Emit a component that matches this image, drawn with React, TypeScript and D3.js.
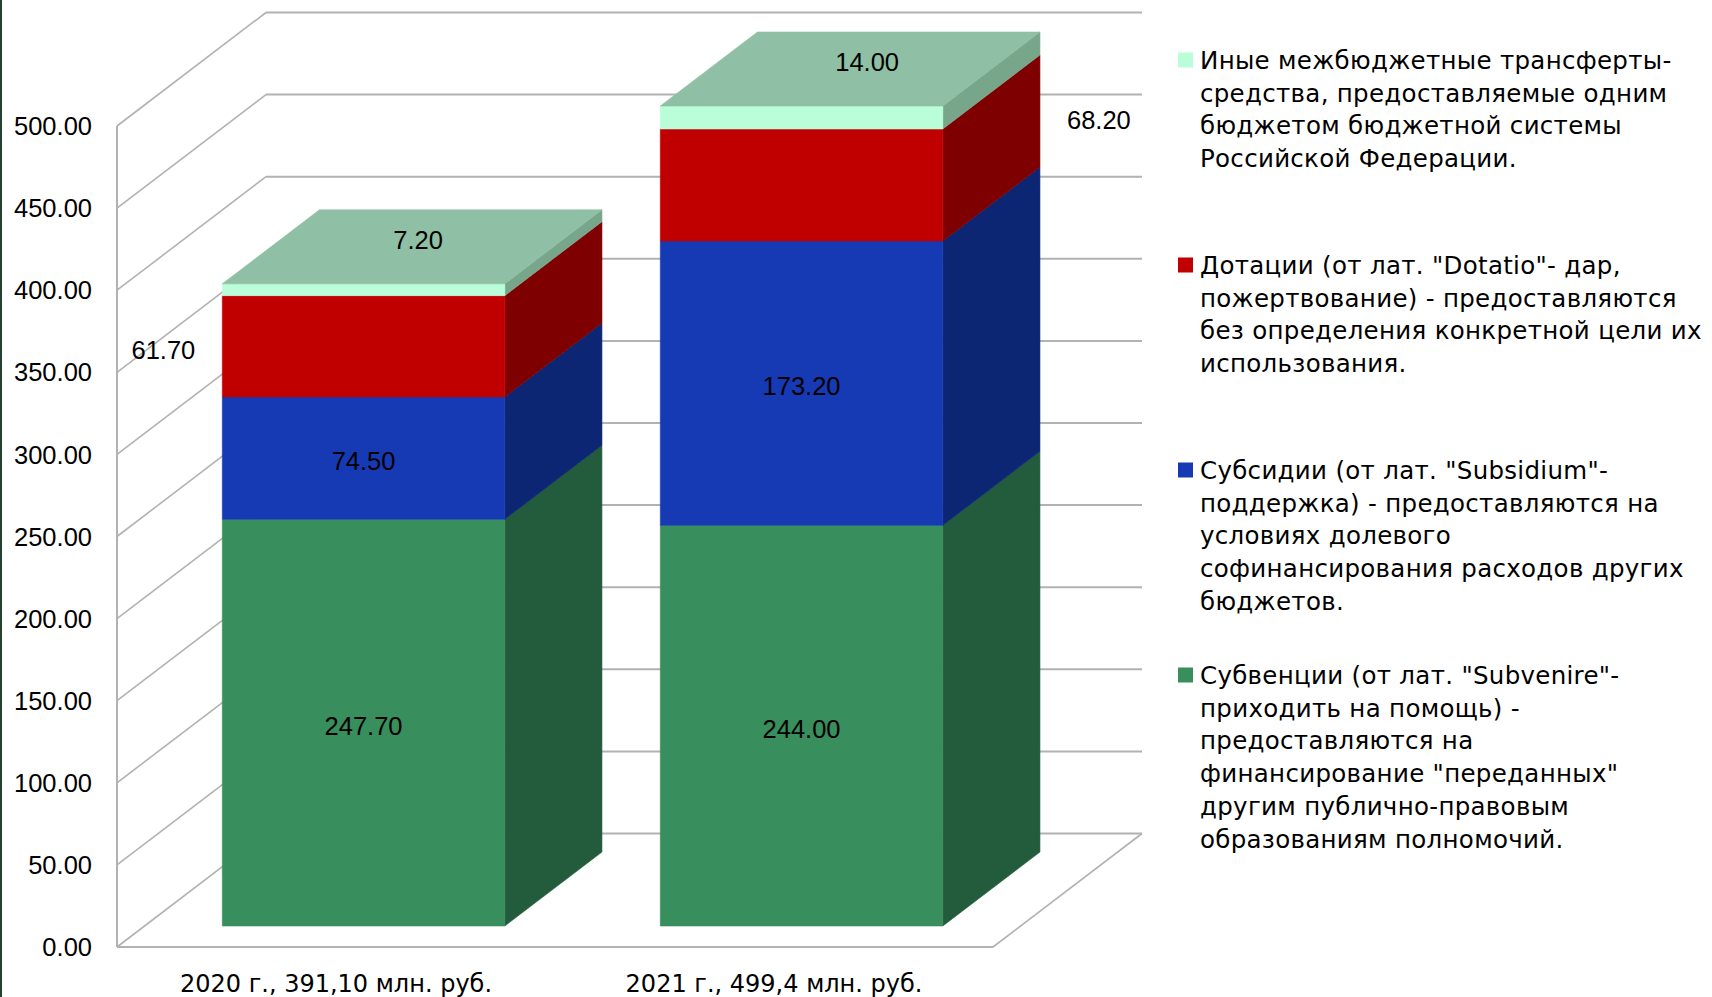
import React from "react";
import * as d3 from "d3";

// ---------- data ----------
const categories = ["2020 г., 391,10 млн. руб.", "2021 г., 499,4 млн. руб."];
const subventions = [247.7, 244.0];
const subsidies = [74.5, 173.2];
const dotations = [61.7, 68.2];
const otherTransfers = [7.2, 14.0];
const yTicks = [0, 50, 100, 150, 200, 250, 300, 350, 400, 450, 500];

const legendOther = [
  "Иные межбюджетные трансферты-",
  "средства, предоставляемые одним",
  "бюджетом бюджетной системы",
  "Российской Федерации.",
];
const legendDot = [
  'Дотации (от лат. "Dotatio"- дар,',
  "пожертвование) - предоставляются",
  "без определения конкретной цели их",
  "использования.",
];
const legendSubs = [
  'Субсидии (от лат. "Subsidium"-',
  "поддержка) - предоставляются на",
  "условиях долевого",
  "софинансирования расходов других",
  "бюджетов.",
];
const legendSubv = [
  'Субвенции (от лат. "Subvenire"-',
  "приходить на помощь) -",
  "предоставляются на",
  'финансирование "переданных"',
  "другим публично-правовым",
  "образованиям полномочий.",
];

// series bottom -> top
const series = [
  { key: "subv", values: subventions, front: "#388e5d", side: "#235c3c", top: "#8fc0a5", legend: legendSubv, place: ["center", "center"] },
  { key: "subs", values: subsidies, front: "#163ab4", side: "#0c2674", top: "#8fc0a5", legend: legendSubs, place: ["center", "center"] },
  { key: "dot", values: dotations, front: "#c00000", side: "#7f0000", top: "#8fc0a5", legend: legendDot, place: ["left", "right"] },
  { key: "other", values: otherTransfers, front: "#bafdd9", side: "#78a68b", top: "#8fc0a5", legend: legendOther, place: ["top", "top"] },
];

// ---------- layout ----------
const W = 1712;
const H = 997;
const DEPTH_DX = 149;
const DEPTH_DY = 113.5;
const BAR_D0 = 0.185;
const BAR_D1 = 0.837;
const NUM_FONT = "'Liberation Sans', Arial, sans-serif";
const TXT_FONT = "'DejaVu Sans', sans-serif";

const y = d3.scaleLinear().domain([0, 500]).range([947, 126]);
const x = d3
  .scaleBand<string>()
  .domain(categories)
  .range([117, 993])
  .paddingInner(0.355)
  .paddingOuter(0.1775);

const proj = (X: number, Y: number, d: number): [number, number] => [X + d * DEPTH_DX, Y - d * DEPTH_DY];
const poly = (pts: [number, number][]) => pts.map((p) => p.join(",")).join(" ");

export default function App() {
  const rows = categories.map((c, i) => {
    const r: any = { cat: c };
    series.forEach((s) => (r[s.key] = s.values[i]));
    return r;
  });
  const stacked = d3.stack().keys(series.map((s) => s.key))(rows);
  const bw = x.bandwidth();
  const [x0r, x1r] = x.range();
  const gridColor = "#b2b2b2";
  const fmt = d3.format(".2f");

  const bars: any[] = [];
  const labels: any[] = [];
  categories.forEach((cat, i) => {
    const bx0 = x(cat)!;
    const bx1 = bx0 + bw;
    series.forEach((s, si) => {
      const [v0, v1] = stacked[si][i] as any;
      const front = poly([proj(bx0, y(v1), BAR_D0), proj(bx1, y(v1), BAR_D0), proj(bx1, y(v0), BAR_D0), proj(bx0, y(v0), BAR_D0)]);
      const side = poly([proj(bx1, y(v1), BAR_D0), proj(bx1, y(v1), BAR_D1), proj(bx1, y(v0), BAR_D1), proj(bx1, y(v0), BAR_D0)]);
      bars.push(<polygon key={`s${i}${si}`} points={side} fill={s.side} stroke={s.side} strokeWidth={0.6} />);
      bars.push(<polygon key={`f${i}${si}`} points={front} fill={s.front} stroke={s.front} strokeWidth={0.6} />);
      if (si === series.length - 1) {
        const top = poly([proj(bx0, y(v1), BAR_D0), proj(bx1, y(v1), BAR_D0), proj(bx1, y(v1), BAR_D1), proj(bx0, y(v1), BAR_D1)]);
        bars.push(<polygon key={`t${i}`} points={top} fill={s.top} stroke={s.top} strokeWidth={0.6} />);
      }
      const place = s.place[i];
      let lx = 0, ly = 0, anchor = "middle";
      if (place === "center") {
        [lx, ly] = proj(bx0 + bw / 2, (y(v0) + y(v1)) / 2, BAR_D0);
        ly += 3;
      } else if (place === "top") {
        [lx, ly] = proj(bx0 + bw / 2, y(v1), (BAR_D0 + BAR_D1) / 2);
        lx += i === 0 ? 6 : 17;
        ly -= 7;
      } else if (place === "left") {
        [lx, ly] = proj(bx0, (y(v0) + y(v1)) / 2, BAR_D0);
        lx -= 27;
        ly += 4;
        anchor = "end";
      } else {
        [lx, ly] = proj(bx1, (y(v0) + y(v1)) / 2, BAR_D1);
        lx += 27;
        ly += 9;
        anchor = "start";
      }
      labels.push(
        <text key={`l${i}${si}`} x={lx} y={ly} dy="0.36em" textAnchor={anchor} fontFamily={NUM_FONT} fontSize={25.5} fill="#000">
          {fmt(s.values[i])}
        </text>
      );
    });
  });

  const legendSeries = [...series].reverse();
  const legendX = 1178;
  const legendTop = 60;
  const legendStep = 205;
  const lineH = 32.75;

  return (
    <svg width={W} height={H} style={{ position: "absolute", left: 0, top: 0, background: "#fff" }}>
      <rect x={0} y={0} width={W} height={H} fill="#fff" />
      <rect x={0} y={0} width={2} height={H} fill="#24402f" />
      {/* back wall gridlines */}
      {yTicks.map((t) => {
        const a = proj(x0r, y(t), 1);
        const b = proj(x1r, y(t), 1);
        return <line key={`g${t}`} x1={a[0]} y1={a[1]} x2={b[0]} y2={b[1]} stroke={gridColor} strokeWidth={2} />;
      })}
      {/* left wall diagonals */}
      {yTicks.map((t) => {
        const a = proj(x0r, y(t), 0);
        const b = proj(x0r, y(t), 1);
        return <line key={`d${t}`} x1={a[0]} y1={a[1]} x2={b[0]} y2={b[1]} stroke={gridColor} strokeWidth={1.6} />;
      })}
      {/* axis & floor */}
      <line x1={x0r} y1={y(0)} x2={x0r} y2={y(500)} stroke={gridColor} strokeWidth={2} />
      <line x1={x0r} y1={y(0)} x2={x1r} y2={y(0)} stroke={gridColor} strokeWidth={2} />
      {(() => {
        const a = proj(x1r, y(0), 0);
        const b = proj(x1r, y(0), 1);
        return <line x1={a[0]} y1={a[1]} x2={b[0]} y2={b[1]} stroke={gridColor} strokeWidth={1.6} />;
      })()}
      {/* y tick labels */}
      {yTicks.map((t) => (
        <text key={`yt${t}`} x={92} y={y(t)} dy="0.36em" textAnchor="end" fontFamily={NUM_FONT} fontSize={25.5} fill="#000">
          {fmt(t)}
        </text>
      ))}
      {bars}
      {labels}
      {/* category labels */}
      {categories.map((c) => (
        <text key={c} x={x(c)! + bw / 2} y={983} dy="0.36em" textAnchor="middle" fontFamily={TXT_FONT} fontSize={24} fill="#000">
          {c}
        </text>
      ))}
      {/* legend */}
      {legendSeries.map((s, i) => {
        const top = legendTop + i * legendStep;
        return (
          <g key={`lg${s.key}`}>
            <rect x={legendX} y={top - 7.5} width={15} height={15} fill={s.front} />
            {s.legend.map((line, j) => (
              <text key={j} x={legendX + 22} y={top + j * lineH} dy="0.36em" fontFamily={TXT_FONT} fontSize={24.5} letterSpacing={0.3} fill="#000">
                {line}
              </text>
            ))}
          </g>
        );
      })}
    </svg>
  );
}
